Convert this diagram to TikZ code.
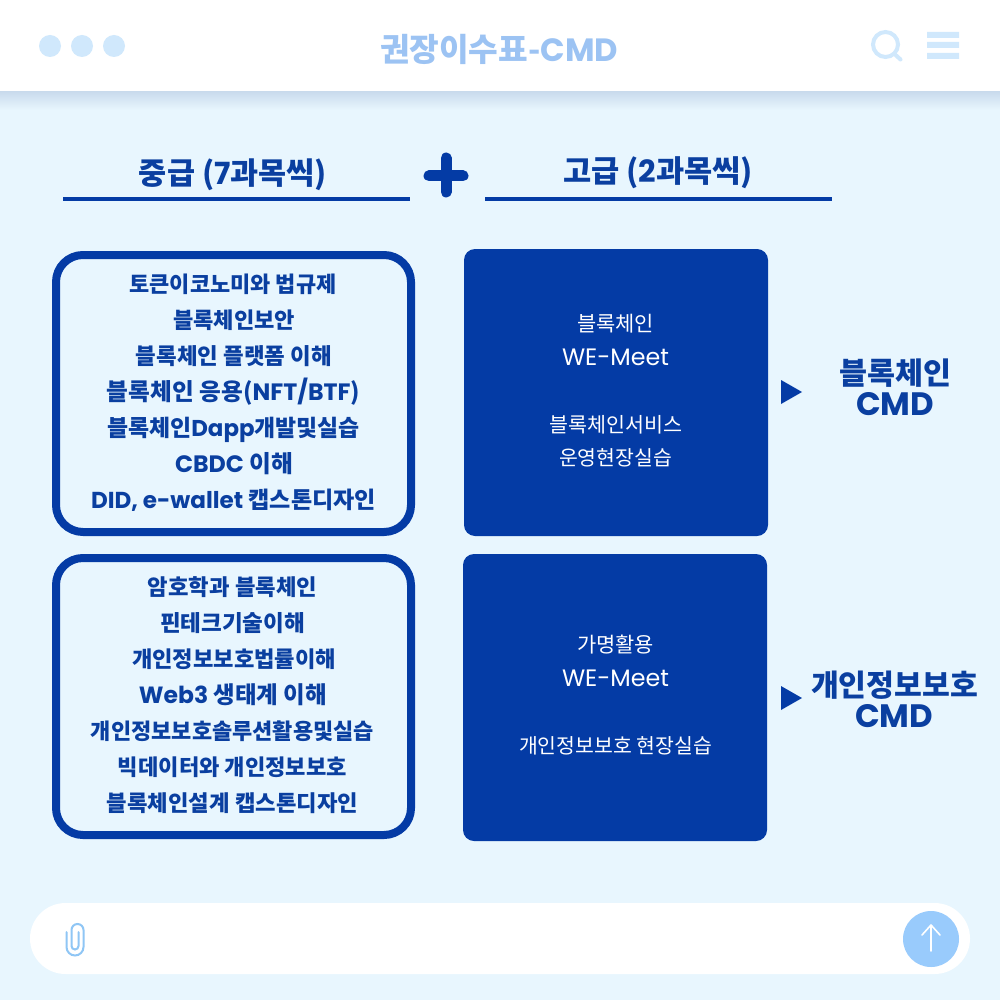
\documentclass[tikz,border=0pt]{standalone}
\usepackage{fontspec}
\usepackage{graphicx}
\setmainfont{Noto Sans CJK KR}
\newfontfamily\lat{Poppins}
\definecolor{bgblue}{HTML}{E8F6FE}
\definecolor{navy}{HTML}{0A3FA0}
\definecolor{boxblue}{HTML}{043BA5}
\definecolor{titleblue}{HTML}{9CC3F3}
\definecolor{paleicon}{HTML}{D0E8FC}
\definecolor{sendblue}{HTML}{99CBFC}
\definecolor{clipblue}{HTML}{8FC6F5}
\definecolor{shadowblue}{HTML}{C8DAEC}
\newcommand{\fitw}[2]{\resizebox{#1pt}{!}{#2}}
\tikzset{
  x=1pt,y=-1pt,
  txt/.style={inner sep=0pt,outer sep=0pt,anchor=mid,yshift=-6pt,font=\fontsize{20}{24}\selectfont},
  navytxt/.style={txt,text=navy,font=\fontsize{20}{24}\selectfont\bfseries},
  whitetxt/.style={txt,text=white},
  bigtxt/.style={yshift=-3.5pt},
  outlinebox/.style={draw=boxblue,line width=8pt,rounded corners=27pt,fill=bgblue},
  solidbox/.style={fill=boxblue,rounded corners=11pt},
  headline/.style={draw=boxblue,line width=4pt},
}
\begin{document}
\begin{tikzpicture}
\useasboundingbox (0,0) rectangle (1000,1000);
\fill[bgblue] (0,0) rectangle (1000,1000);
% header
\shade[top color=shadowblue,bottom color=bgblue] (0,91) rectangle (1000,110);
\fill[white] (0,0) rectangle (1000,91);
\fill[paleicon] (50,46) circle (11) (82,46) circle (11) (114,46) circle (11);
\node[navytxt,text=titleblue,bigtxt] (title) at (499,49) {\fitw{238}{권장이수표-{\lat CMD}}};
\draw[paleicon,line width=4pt] (885.5,44.5) circle (12.5);
\draw[paleicon,line width=4pt,line cap=round] (894.5,54) -- (900.5,59.5);
\fill[paleicon] (927,32) rectangle (959,38) (927,42) rectangle (959,48) (927,53) rectangle (959,59);
% column headers
\node[navytxt,bigtxt] (mid) at (233,172) {\fitw{188}{중급 ({\lat 7}과목씩)}};
\node[navytxt,bigtxt] (high) at (658,170) {\fitw{190}{고급 ({\lat 2}과목씩)}};
\draw[headline] (63,199.5) -- (410,199.5);
\draw[headline] (485,199.5) -- (832,199.5);
\draw[boxblue,line width=11pt,line cap=round] (446,158) -- (446,192) (429,176) -- (463,176);
% left boxes
\draw[outlinebox] (56,255) rectangle (411,532);
\draw[outlinebox] (56,558) rectangle (411,835);
\node[navytxt] (a1) at (233,284) {\fitw{207}{토큰이코노미와 법규제}};
\node[navytxt] (a2) at (234,320) {\fitw{122}{블록체인보안}};
\node[navytxt] (a3) at (234,356) {\fitw{196}{블록체인 플랫폼 이해}};
\node[navytxt] (a4) at (233.5,392) {\fitw{253}{블록체인 응용({\lat NFT/BTF})}};
\node[navytxt] (a5) at (233.5,428) {\fitw{253}{블록체인{\lat Dapp}개발및실습}};
\node[navytxt] (a6) at (234,464) {\fitw{118}{{\lat CBDC} 이해}};
\node[navytxt] (a7) at (233.5,500) {\fitw{285}{{\lat DID, e-wallet} 캡스톤디자인}};
\node[navytxt] (b1) at (232.5,587) {\fitw{169}{암호학과 블록체인}};
\node[navytxt] (b2) at (232.5,623) {\fitw{145}{핀테크기술이해}};
\node[navytxt] (b3) at (234,659) {\fitw{204}{개인정보보호법률이해}};
\node[navytxt] (b4) at (233,695) {\fitw{188}{{\lat Web3} 생태계 이해}};
\node[navytxt] (b5) at (232.5,731) {\fitw{283}{개인정보보호솔루션활용및실습}};
\node[navytxt] (b6) at (232.5,767) {\fitw{229}{빅데이터와 개인정보보호}};
\node[navytxt] (b7) at (232.5,803) {\fitw{251}{블록체인설계 캡스톤디자인}};
% right boxes
\fill[solidbox] (464,249) rectangle (768,536);
\fill[solidbox] (463,554) rectangle (767,841);
\node[whitetxt] (c1) at (615.5,323) {\fitw{77}{블록체인}};
\node[whitetxt] (c2) at (615.5,357) {\fitw{107}{{\lat WE-Meet}}};
\node[whitetxt] (c3) at (615.5,424) {\fitw{133}{블록체인서비스}};
\node[whitetxt] (c4) at (615.5,457) {\fitw{113}{운영현장실습}};
\node[whitetxt] (d1) at (615.5,644) {\fitw{77}{가명활용}};
\node[whitetxt] (d2) at (615.5,678) {\fitw{107}{{\lat WE-Meet}}};
\node[whitetxt] (d3) at (615.5,745) {\fitw{193}{개인정보보호 현장실습}};
% result labels
\fill[boxblue] (781,380) -- (802,392) -- (781,404) -- cycle;
\fill[boxblue] (781,686) -- (802,698) -- (781,710) -- cycle;
\node[navytxt,bigtxt] (e1) at (895,372) {\fitw{112}{블록체인}};
\node[navytxt,bigtxt] (e2) at (895,403.5) {\fitw{78}{{\lat CMD}}};
\node[navytxt,bigtxt] (f1) at (894.5,684) {\fitw{167}{개인정보보호}};
\node[navytxt,bigtxt] (f2) at (894,715.5) {\fitw{78}{{\lat CMD}}};
% input bar
\fill[white,rounded corners=35.5pt] (30,903) rectangle (970,974);
\fill[sendblue] (931,939) circle (28);
\draw[white,line width=1.6pt,line cap=round,line join=round] (931,951) -- (931,925) (922,935) -- (931,925) -- (940,935);
\draw[clipblue,line width=2pt,line cap=round] (66.5,932) -- (66.5,947) arc[start angle=180,end angle=0,radius=8.5] -- (83.5,930) arc[start angle=0,end angle=-180,radius=6] -- (71.5,946) arc[start angle=180,end angle=0,radius=3.5] -- (78.5,932);
\end{tikzpicture}
\end{document}
